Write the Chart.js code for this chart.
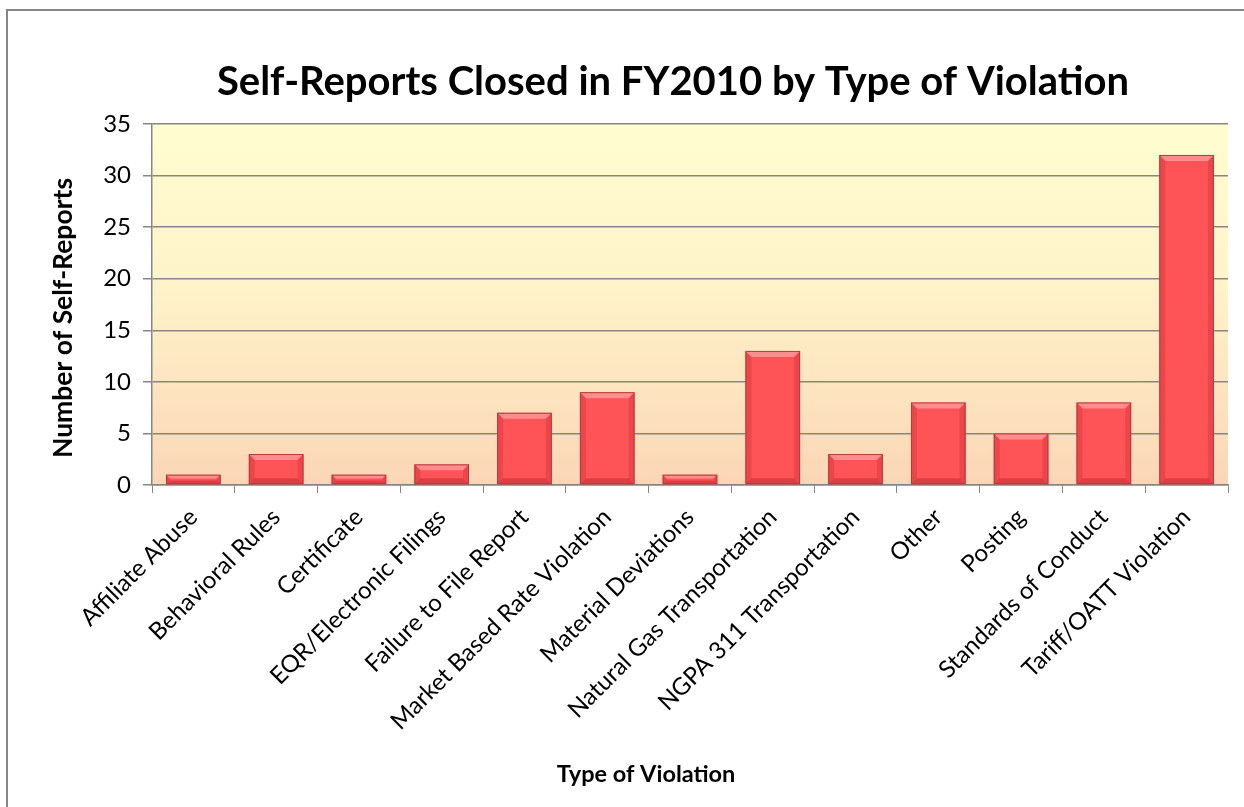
<!DOCTYPE html>
<html>
<head>
<meta charset="utf-8">
<script src="https://cdn.jsdelivr.net/npm/chart.js@4/dist/chart.umd.min.js"></script>
<style>
  html, body { margin: 0; padding: 0; background: #fff; }
  #wrap { position: relative; width: 1244px; height: 807px; overflow: hidden; }
  #frame { position: absolute; left: 6px; top: 9px; width: 1300px; height: 900px;
           border-left: 2px solid #868686; border-top: 2px solid #868686; }
  canvas { position: absolute; left: 0; top: 0; }
</style>
</head>
<body>
<div id="wrap">
  <div id="frame"></div>
  <canvas id="chart" width="1244" height="807"></canvas>
</div>
<script>
// chart data
const categories = [
    'Affiliate Abuse', 'Behavioral Rules', 'Certificate', 'EQR/Electronic Filings',
    'Failure to File Report', 'Market Based Rate Violation', 'Material Deviations',
    'Natural Gas Transportation', 'NGPA 311 Transportation', 'Other', 'Posting',
    'Standards of Conduct', 'Tariff/OATT Violation'
];
const selfReports = [1, 3, 1, 2, 7, 9, 1, 13, 3, 8, 5, 8, 32];
const yTicks = [0, 5, 10, 15, 20, 25, 30, 35];
const xTitle = 'Type of Violation';
const yTitle = 'Number of Self-Reports';

const fontFamily = 'Lato, "Open Sans", sans-serif';
const gridColor = '#868686';

// Plot area gradient (light yellow to peach)
const plotBackground = {
    id: 'plotBackground',
    beforeDraw(chart) {
        const { ctx, chartArea: a } = chart;
        const g = ctx.createLinearGradient(0, a.top, 0, a.bottom);
        g.addColorStop(0, '#FFFDD0');
        g.addColorStop(0.45, '#FEF3C9');
        g.addColorStop(1, '#FBD6B6');
        ctx.save();
        ctx.fillStyle = g;
        ctx.fillRect(a.left, a.top, a.right - a.left, a.bottom - a.top);
        ctx.restore();
    }
};

// Center the main title over the plot area instead of the whole canvas
const titleOverPlot = {
    id: 'titleOverPlot',
    afterLayout(chart) {
        if (chart.titleBlock) {
            chart.titleBlock.left = 118;
            chart.titleBlock.right = chart.chartArea.right;
        }
    }
};

// Axis titles, placed like the Excel original (not exactly centred)
const axisTitles = {
    id: 'axisTitles',
    afterDraw(chart) {
        const { ctx, chartArea: a } = chart;
        ctx.save();
        ctx.fillStyle = '#000';
        ctx.textAlign = 'center';
        ctx.textBaseline = 'middle';
        ctx.font = 'bold 23.5px ' + fontFamily;
        ctx.fillText(xTitle, a.left + 494, 774);
        ctx.font = 'bold 26.5px ' + fontFamily;
        ctx.translate(63, a.top + 194);
        ctx.rotate(-Math.PI / 2);
        ctx.fillText(yTitle, 0, 0);
        ctx.restore();
    }
};

// Bevel look on each bar
const barBevel = {
    id: 'barBevel',
    afterDatasetsDraw(chart) {
        const { ctx } = chart;
        chart.getDatasetMeta(0).data.forEach(bar => {
            const { x, y, base, width } = bar.getProps(['x', 'y', 'base', 'width'], true);
            const l = x - width / 2, r = x + width / 2;
            const h = base - y;
            const b = Math.min(6, h / 2.5);
            ctx.save();
            // top bevel
            ctx.fillStyle = 'rgba(255,160,160,0.75)';
            ctx.beginPath();
            ctx.moveTo(l, y); ctx.lineTo(r, y); ctx.lineTo(r - b, y + b); ctx.lineTo(l + b, y + b);
            ctx.closePath(); ctx.fill();
            // side bevels
            ctx.fillStyle = 'rgba(190,40,45,0.3)';
            ctx.beginPath();
            ctx.moveTo(l, y); ctx.lineTo(l + b, y + b); ctx.lineTo(l + b, base - b); ctx.lineTo(l, base);
            ctx.closePath(); ctx.fill();
            ctx.beginPath();
            ctx.moveTo(r, y); ctx.lineTo(r - b, y + b); ctx.lineTo(r - b, base - b); ctx.lineTo(r, base);
            ctx.closePath(); ctx.fill();
            // bottom bevel
            ctx.fillStyle = 'rgba(170,30,35,0.4)';
            ctx.beginPath();
            ctx.moveTo(l, base); ctx.lineTo(r, base); ctx.lineTo(r - b, base - b); ctx.lineTo(l + b, base - b);
            ctx.closePath(); ctx.fill();
            // outline
            ctx.strokeStyle = '#B53A3C';
            ctx.lineWidth = 1;
            ctx.strokeRect(l + 0.5, y + 0.5, width - 1, h - 1);
            ctx.restore();
        });
    }
};

new Chart(document.getElementById('chart'), {
    type: 'bar',
    data: {
        labels: categories,
        datasets: [{
            data: selfReports,
            backgroundColor: '#FF5457',
            borderWidth: 0,
            categoryPercentage: 1,
            barPercentage: 0.66
        }]
    },
    options: {
        responsive: false,
        animation: false,
        layout: { padding: { left: 40, right: 16, top: 0, bottom: 10 } },
        plugins: {
            legend: { display: false },
            tooltip: { enabled: false },
            title: {
                display: true,
                text: 'Self-Reports Closed in FY2010 by Type of Violation',
                color: '#000',
                font: { family: fontFamily, size: 40, weight: 'bold' },
                padding: { top: 58, bottom: 18 }
            }
        },
        scales: {
            x: {
                grid: { display: true, drawOnChartArea: false, offset: true, color: gridColor, tickLength: 8 },
                border: { color: gridColor, width: 1.5 },
                ticks: {
                    color: '#000', maxRotation: 45, minRotation: 45, autoSkip: false,
                    font: { family: fontFamily, size: 24 }, padding: 10
                },
                afterFit(scale) { scale.height = 807 - 485 - 10; }
            },
            y: {
                min: 0, max: 35,
                afterBuildTicks(scale) { scale.ticks = yTicks.map(v => ({ value: v })); },
                grid: { color: gridColor, lineWidth: 1.5, tickLength: 9 },
                border: { color: gridColor, width: 1.5 },
                ticks: { color: '#000', font: { family: fontFamily, size: 24 }, padding: 12 },
                afterFit(scale) { scale.width = 152 - 40; }
            }
        }
    },
    plugins: [plotBackground, titleOverPlot, axisTitles, barBevel]
});
</script>
</body>
</html>
